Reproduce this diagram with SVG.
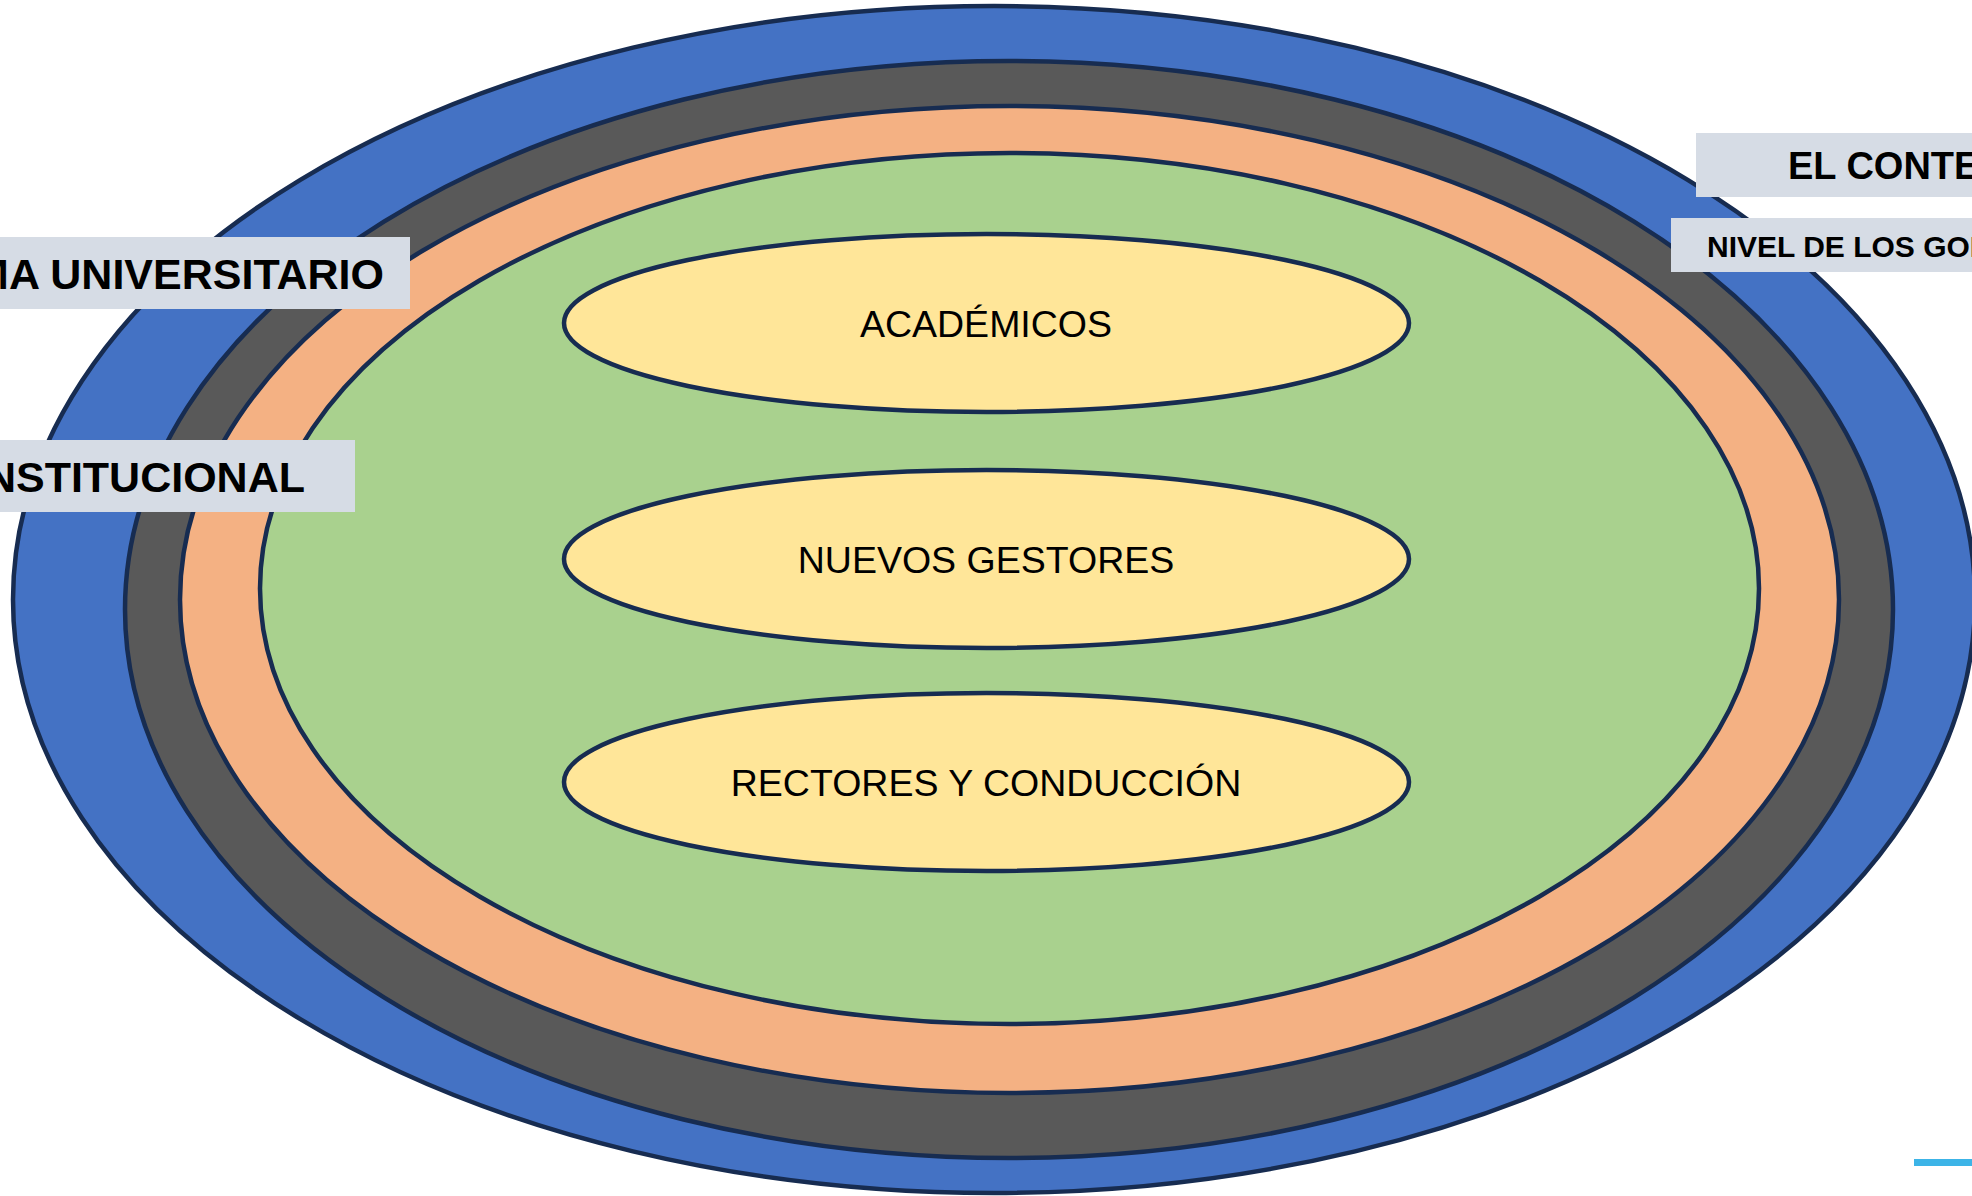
<svg xmlns="http://www.w3.org/2000/svg" width="1972" height="1196" viewBox="0 0 1972 1196">
<style>
.ring{stroke:#172C51;stroke-width:4.5}
.inner{fill:#FFE699;stroke:#172C51;stroke-width:4.5}
.lbl{fill:#D6DCE5}
.t{font-family:"Liberation Sans",Arial,sans-serif;fill:#000}
.in{font-size:37.5px;text-anchor:middle}
.b{font-weight:bold}
</style>
<rect width="1972" height="1196" fill="#FFFFFF"/>
<g id="rings">
<ellipse id="ring-blue" class="ring" cx="994" cy="599.5" rx="981" ry="593.5" fill="#4472C4"/>
<ellipse id="ring-gray" class="ring" cx="1009" cy="609.5" rx="884" ry="548.5" fill="#595959"/>
<ellipse id="ring-orange" class="ring" cx="1009.5" cy="599.5" rx="829.5" ry="493.5" fill="#F4B183"/>
<ellipse id="ring-green" class="ring" cx="1009.5" cy="588.5" rx="749.5" ry="435.5" fill="#A9D18E"/>
</g>
<g id="connectors"></g>
<g id="node-academicos">
<ellipse class="inner" cx="986.5" cy="323" rx="422.5" ry="89"/>
<text class="t in" x="986" y="337">ACADÉMICOS</text>
</g>
<g id="node-gestores">
<ellipse class="inner" cx="986.5" cy="559" rx="422.5" ry="89"/>
<text class="t in" x="986" y="573">NUEVOS GESTORES</text>
</g>
<g id="node-rectores">
<ellipse class="inner" cx="986.5" cy="782" rx="422.5" ry="89"/>
<text class="t in" x="986" y="796">RECTORES Y CONDUCCIÓN</text>
</g>
<g id="label-universitario">
<rect class="lbl" x="0" y="237" width="410" height="72"/>
<text class="t b" x="384" y="289" font-size="43" text-anchor="end">MA UNIVERSITARIO</text>
</g>
<g id="label-institucional">
<rect class="lbl" x="0" y="440" width="355" height="72"/>
<text class="t b" x="305" y="492" font-size="43" text-anchor="end">NSTITUCIONAL</text>
</g>
<g id="label-contexto">
<rect class="lbl" x="1696" y="133" width="276" height="64"/>
<text class="t b" x="1788" y="179" font-size="38">EL CONTE</text>
</g>
<g id="label-gobiernos">
<rect class="lbl" x="1671" y="218" width="301" height="54"/>
<text class="t b" x="1707" y="257" font-size="30">NIVEL DE LOS GOB</text>
</g>
<rect x="1914" y="1159" width="58" height="7" fill="#3CB4E7"/>
</svg>
